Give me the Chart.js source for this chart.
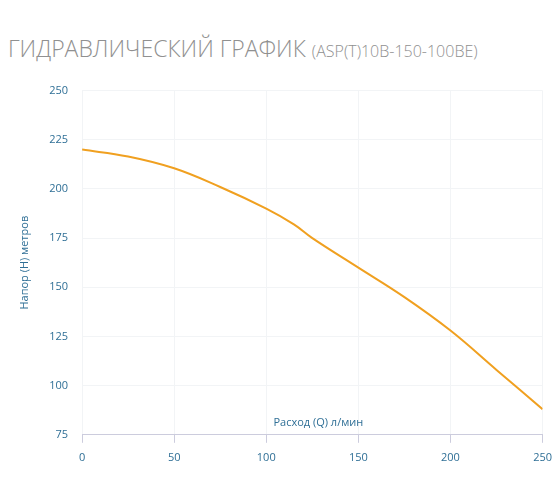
<!DOCTYPE html><html><head><meta charset="utf-8">
<script src="https://cdn.jsdelivr.net/npm/chart.js@4"></script>
<style>body{margin:0;background:#fff;font-family:"Open Sans",sans-serif}
#t{position:absolute;left:8px;top:32px;color:#909090;font-size:23px;white-space:nowrap;font-weight:300}
#t span{font-size:16px}
#w{position:absolute;left:0;top:70px;width:560px;height:434px}</style></head><body>
<div id="t">ГИДРАВЛИЧЕСКИЙ ГРАФИК <span>(ASP(T)10B-150-100BE)</span></div>
<div id="w"><canvas id="c"></canvas></div>
<script>
const flow=[0,25,50,75,100,115,125,150,175,200,225,250];
const head=[220,216.5,210.5,201,190,182,175,160,145,128,108,88];
const xTicks=[0,50,100,150,200,250];
const yTicks=[75,100,125,150,175,200,225,250];
const col='#2f6f96';
new Chart(document.getElementById('c'),{type:'line',
data:{datasets:[{data:flow.map((x,i)=>({x,y:head[i]})),borderColor:'#f0a020',borderWidth:2,pointRadius:0,tension:0.4,fill:false}]},
options:{responsive:true,maintainAspectRatio:false,animation:false,
layout:{padding:{left:14,right:17,top:14,bottom:32}},
plugins:{legend:{display:false},tooltip:{enabled:false}},
scales:{x:{type:'linear',min:0,max:250,afterBuildTicks:a=>{a.ticks=xTicks.map(v=>({value:v}))},
  grid:{color:'#f2f4f6',tickColor:'#ccd',tickLength:8},border:{color:'#ccd'},
  ticks:{color:col,font:{size:11,family:'Open Sans'},padding:8}},
 y:{min:75,max:250,afterBuildTicks:a=>{a.ticks=yTicks.map(v=>({value:v}))},
  grid:{color:'#f2f4f6',drawTicks:false},border:{display:false},
  ticks:{color:col,font:{size:11,family:'Open Sans'},padding:14},
  title:{display:true,text:'Напор (H) метров',color:col,font:{size:11,family:'Open Sans'},padding:{bottom:4}}}}},
plugins:[{id:'xt',afterDraw(c){const x=c.ctx,a=c.chartArea;x.save();x.fillStyle=col;x.font='11px "Open Sans"';x.textAlign='center';x.fillText('Расход (Q) л/мин',(a.left+a.right)/2+6,a.bottom-9);x.restore();}}]});
</script></body></html>
